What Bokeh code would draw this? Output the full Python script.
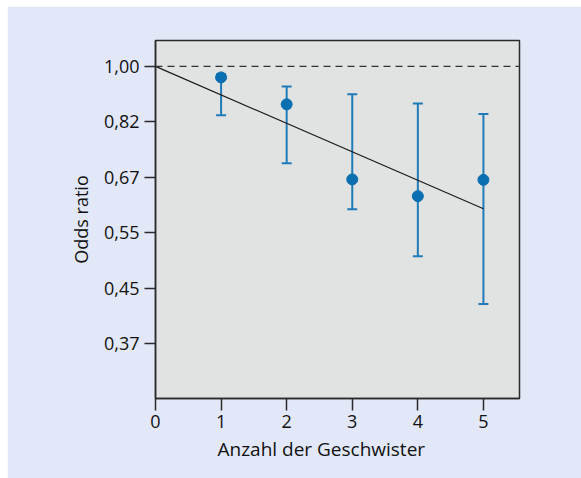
from bokeh.plotting import figure
from bokeh.models import Range1d, FixedTicker, Whisker, TeeHead, ColumnDataSource, Span, Spacer, Title
from bokeh.layouts import column, row
from bokeh.embed import file_html
from bokeh.resources import INLINE

# Data (odds ratios by number of siblings)
siblings = [1, 2, 3, 4, 5]
odds = [0.961, 0.872, 0.665, 0.626, 0.664]
ci_lower = [0.838, 0.705, 0.597, 0.504, 0.424]
ci_upper = [0.972, 0.930, 0.904, 0.875, 0.842]
trend_x = [0, 5]
trend_y = [1.0, 0.598]
y_tick_values = [1.0, 0.8187, 0.6703, 0.5488, 0.4493, 0.3679]
y_tick_labels = ["1,00", "0,82", "0,67", "0,55", "0,45", "0,37"]
x_ticks = [0, 1, 2, 3, 4, 5]

FONT = "Open Sans"
TXT = "#111111"

p = figure(width=574, height=472, y_axis_type="log",
           x_range=Range1d(0, 5.55), y_range=Range1d(0.3015, 1.098),
           output_backend="svg", toolbar_location=None,
           background_fill_color="#e1e3e2", border_fill_color="#e2e8f8",
           min_border_left=148, min_border_right=62, min_border_top=34, min_border_bottom=80)

p.outline_line_color = "#2a2a2a"
p.outline_line_width = 1.5
p.xgrid.visible = False
p.ygrid.visible = False

p.xaxis.ticker = FixedTicker(ticks=x_ticks)
p.yaxis.ticker = FixedTicker(ticks=y_tick_values)
p.yaxis.major_label_overrides = {v: l for v, l in zip(y_tick_values, y_tick_labels)}

for ax in (p.xaxis, p.yaxis):
    ax.axis_line_color = "#2a2a2a"
    ax.axis_line_width = 1.5
    ax.major_tick_line_color = "#2a2a2a"
    ax.major_tick_line_width = 1.5
    ax.major_tick_in = 0
    ax.minor_tick_line_color = None
    ax.major_label_text_font = FONT
    ax.major_label_text_font_size = "18px"
    ax.major_label_text_color = TXT
    ax.axis_label_text_font = FONT
    ax.axis_label_text_font_style = "normal"
    ax.axis_label_text_color = TXT

p.xaxis.major_tick_out = 12
p.yaxis.major_tick_out = 11
p.xaxis.major_label_standoff = 4
p.yaxis.major_label_standoff = 5
p.yaxis.axis_label = "Odds ratio"
p.yaxis.axis_label_text_font_size = "18px"
p.yaxis.axis_label_standoff = 8

# x axis title, placed slightly left of the frame centre as in the original
p.add_layout(Title(text="Anzahl der Geschwister", align="left", offset=62,
                   text_font=FONT, text_font_size="19px", text_font_style="normal",
                   text_color=TXT, standoff=7), "below")

# reference line at OR = 1
p.add_layout(Span(location=1.0, dimension="width", line_color="#333333",
                  line_width=1.3, line_dash="7 5"))

# trend line
p.line(trend_x, trend_y, line_color="#1a1a1a", line_width=1.2)

src = ColumnDataSource(dict(x=siblings, y=odds, lo=ci_lower, hi=ci_upper))
w = Whisker(source=src, base="x", lower="lo", upper="hi", dimension="height",
            line_color="#1f7bb8", line_width=2,
            upper_head=TeeHead(size=10, line_color="#1f7bb8", line_width=2),
            lower_head=TeeHead(size=10, line_color="#1f7bb8", line_width=2))
p.add_layout(w)

p.scatter("x", "y", source=src, size=11, fill_color="#0a6fb0", line_color="#0a6fb0")

layout = column(Spacer(height=6), row(Spacer(width=7), p))
open("out.html", "w").write(file_html(layout, INLINE))
